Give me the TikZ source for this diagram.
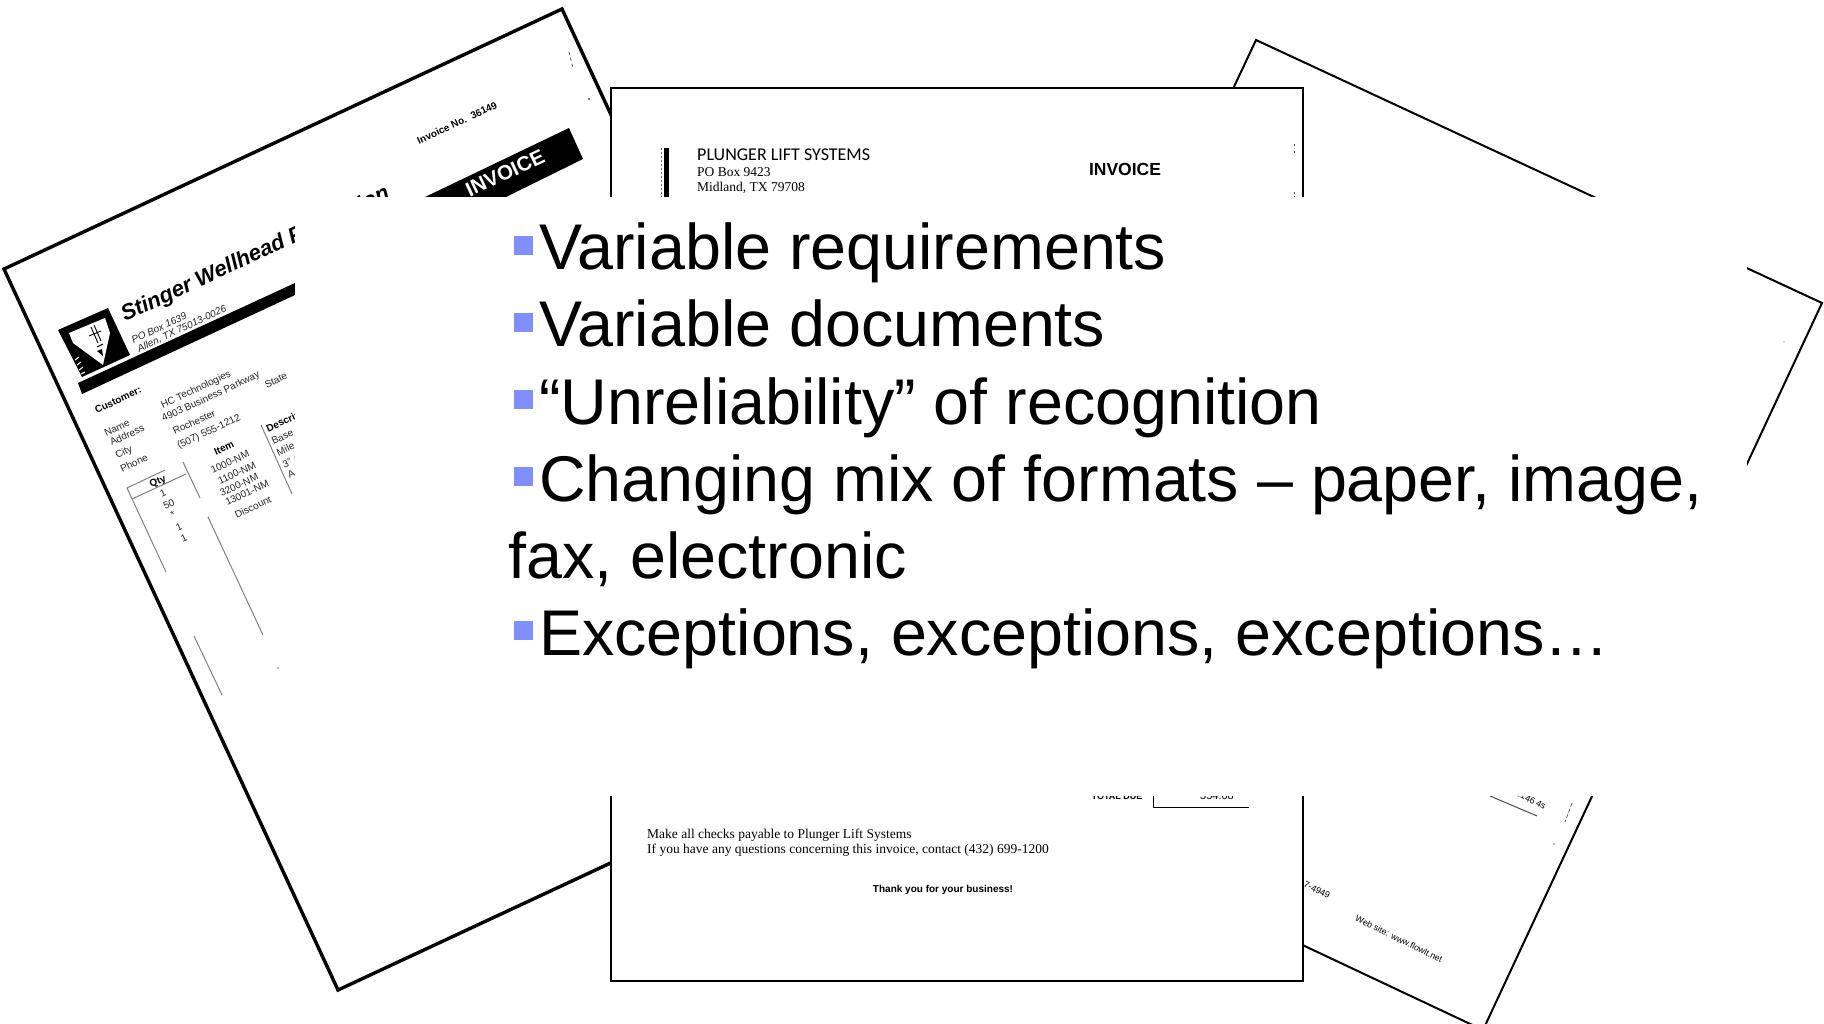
\documentclass[tikz,border=0pt]{standalone}
\usepackage{fontspec}
\setmainfont{Liberation Sans}
\newfontfamily\docserif{Liberation Serif}
\newfontfamily\doccal{Carlito}
\definecolor{bulletblue}{HTML}{7F8FFF}
\definecolor{rulegray}{HTML}{808080}
\newcommand{\fsz}[1]{\fontsize{#1}{#1}\selectfont}
\tikzset{
  sheetA/.style={draw=black,fill=white,line width=3.4pt,line join=miter},
  sheetB/.style={draw=black,fill=white,line width=2pt,line join=miter},
  tiny1/.style={inner sep=0pt,rotate=25,font=\fsz{10},text=black!85},
  tiny1b/.style={inner sep=0pt,rotate=25,font=\fsz{10}\bfseries},
  tinyW/.style={tiny1,anchor=west},
  rule1/.style={draw=rulegray,line width=1pt},
  bul/.style={fill=bulletblue,draw=none},
  bigtext/.style={inner sep=0pt,anchor=base west,font=\fsz{64.6}}
}
\begin{document}
\begin{tikzpicture}[x=1pt,y=-1pt]
\useasboundingbox (0,0) rectangle (1824,1024);
\fill[white] (0,0) rectangle (1824,1024);
% ---- right sheet
\draw[sheetB] (1256,40) -- (1822,303) -- (1483,1030) -- (916,763) -- cycle;
\node[inner sep=0pt,rotate=-26,font=\fsz{8.8}] (web) at (1399,939) {Web site: www.flowlt.net};
\node[inner sep=0pt,rotate=-26,font=\fsz{9}] (fragA) at (1317,890) {7-4949};
\node[inner sep=0pt,rotate=-26,font=\fsz{9}] (fragB) at (1531,800) {3146 4s};
\draw[black!70,line width=1pt] (1490,796) -- (1537,816);
\draw[black!60,line width=.8pt,dash pattern=on 4pt off 2pt] (1572,803) -- (1565,822);
\fill[black!60] (1554,844) circle (.8);
\fill[black!60] (1784,342) circle (.7);
% ---- left sheet
\draw[sheetA] (562,9) -- (4,269) -- (338,990) -- (896,730) -- cycle;
\draw[black!70,line width=.8pt,dash pattern=on 3pt off 3pt] (569,52) -- (573,68);
\fill[black] (589,99) circle (.8);
\node[tiny1b,font=\fsz{10}\bfseries] (invno) at (457,123) {Invoice No.\ \ 36149};
\fill[black] (569,128) -- (583,159) -- (506,197) -- (425,197) -- cycle;
\node[inner sep=0pt,rotate=25,text=white,font=\fsz{20.5}\bfseries] (invA) at (505,173) {INVOICE};
\node[inner sep=0pt,rotate=25,anchor=base west,font=\fsz{22}\bfseries\itshape] (title) at (125,322) {Stinger Wellhead Protection};
% logo
\fill[black] (58,330) -- (108,308) -- (130,355) -- (82,377) -- cycle;
\fill[white] (69,333) -- (105,318) -- (110,333) -- (103,365) -- (73,343) -- cycle;
\draw[black,line width=.9pt] (91,327) -- (98,343) (94,325) -- (101,341) (89,336) -- (101,331) (97,347) -- (103,344);
\fill[black] (97,351) -- (102,349) -- (103,356) -- cycle;
\draw[white,line width=1pt] (75,360) -- (79,357) (77,365) -- (81,362) (79,370) -- (83,367) (81,374) -- (85,372);
% band
\fill[black] (78,383) -- (295,283) -- (295,295) -- (82,394) -- cycle;
\node[tiny1,font=\fsz{10}\itshape] (po) at (159,328) {PO Box 1639};
\node[tiny1,font=\fsz{10}\itshape] (allen) at (182,329) {Allen, TX 75013-0026};
\node[tiny1b] (cust) at (118,400) {Customer:};
\node[tiny1] (lname) at (117,428) {Name};
\node[tiny1] (laddr) at (127,435) {Address};
\node[tiny1] (lcity) at (124,453) {City};
\node[tiny1] (lphone) at (134,463) {Phone};
\node[tiny1] (vname) at (196,390) {HC Technologies};
\node[tiny1] (vaddr) at (211,397) {4903 Business Parkway};
\node[tiny1] (vcity) at (194,422) {Rochester};
\node[tiny1] (vphone) at (209,432) {(507) 555-1212};
\node[tiny1] (state) at (276,380) {State};
\node[tiny1b] (qty) at (158,482) {Qty};
\node[tiny1] (q1) at (163,493) {1};
\node[tiny1] (q2) at (169,504) {50};
\node[tiny1] (q3) at (173,515) {*};
\node[tiny1] (q4) at (179,527) {1};
\node[tiny1] (q5) at (184,538) {1};
\node[tiny1b] (item) at (224,448) {Item};
\node[tiny1] (i1) at (230,462) {1000-NM};
\node[tiny1] (i2) at (237,473) {1100-NM};
\node[tiny1] (i3) at (239,485) {3200-NM};
\node[tiny1] (i4) at (247,493) {13001-NM};
\node[tiny1] (i5) at (253,507) {Discount};
\node[tiny1b,anchor=west] (desc) at (267,430) {Description};
\node[tinyW] (d1) at (272,442) {Base};
\node[tinyW] (d2) at (277,453) {Mile};
\node[tinyW] (d3) at (283,465) {3" A};
\node[tinyW] (d4) at (288,475) {A};
\draw[rule1] (165,470) -- (127,488) -- (166,572);
\draw[rule1] (132,499) -- (186,474);
\draw[rule1] (183,462) -- (200,498);
\draw[rule1] (208,517) -- (263,635);
\draw[rule1] (194,636) -- (222,695);
\draw[rule1] (261,425) -- (292,494);
\fill[black!60] (278,668) circle (.9);
% ---- front sheet
\draw[sheetB] (611,88) rectangle (1303,981);
\fill[black] (664,148) rectangle (669,198);
\draw[black!60,line width=.8pt,dash pattern=on 2pt off 2pt] (661,148) -- (661,198);
\node[inner sep=0pt,anchor=base west,font=\doccal\fsz{18}] (plunger) at (697,161) {PLUNGER LIFT SYSTEMS};
\node[inner sep=0pt,anchor=base west,font=\docserif\fsz{13.5}] (pobox) at (697,177) {PO Box 9423};
\node[inner sep=0pt,anchor=base west,font=\docserif\fsz{13.5}] (midland) at (697,192) {Midland, TX 79708};
\node[inner sep=0pt,font=\fsz{17.5}\bfseries] (invB) at (1125,169) {INVOICE};
\draw[black!70,line width=.8pt,dash pattern=on 2pt off 5pt] (1294,144) -- (1294,156);
\draw[black!70,line width=.8pt,dash pattern=on 2pt off 2pt] (1294,192) -- (1294,197);
\node[inner sep=0pt,font=\fsz{9}\bfseries] (total) at (1117,796) {TOTAL DUE};
\node[inner sep=0pt,font=\fsz{11}] (amount) at (1217,796) {354.08};
\draw[black,line width=1pt] (1153,790) -- (1153,807) -- (1249,807);
\node[inner sep=0pt,anchor=base west,font=\docserif\fsz{13.5}] (checks) at (647,838) {Make all checks payable to Plunger Lift Systems};
\node[inner sep=0pt,anchor=base west,font=\docserif\fsz{13.5}] (ques) at (647,853) {If you have any questions concerning this invoice, contact (432) 699-1200};
\node[inner sep=0pt,font=\fsz{10}\bfseries] (thanks) at (943,890) {Thank you for your business!};
% ---- white panel
\fill[white] (295,197) rectangle (1747,796);
% ---- bullets
\fill[bul] (514,236) rectangle (533,255);
\fill[bul] (514,313) rectangle (533,332);
\fill[bul] (514,390) rectangle (533,409);
\fill[bul] (514,467) rectangle (533,486);
\fill[bul] (514,621) rectangle (533,640);
\node[bigtext] (b1) at (539,270) {Variable requirements};
\node[bigtext] (b2) at (539,347) {Variable documents};
\node[bigtext] (b3) at (539,424) {“Unreliability” of recognition};
\node[bigtext] (b4) at (539,501) {Changing mix of formats – paper, image,};
\node[bigtext] (b5) at (508,578) {fax, electronic};
\node[bigtext] (b6) at (539,655) {Exceptions, exceptions, exceptions…};
\end{tikzpicture}
\end{document}
